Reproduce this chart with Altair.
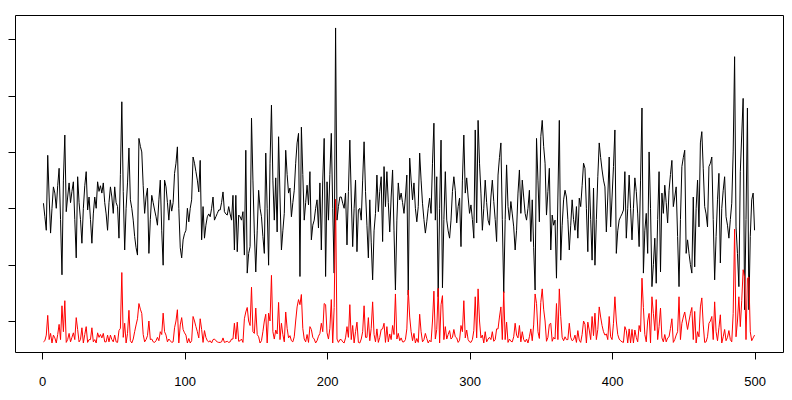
import altair as alt
import pandas as pd

idx = list(range(1, 501))

black = [
    2.09,1.85,1.61,2.94,2.2,1.56,2.0,2.38,2.27,2.0,
    2.4,2.71,1.8,0.82,2.5,3.3,1.94,2.2,2.45,2.1,
    2.3,2.47,1.8,1.12,2.56,2.1,1.8,1.38,2.0,2.4,
    2.65,1.97,2.2,1.8,1.38,1.9,2.2,2.0,2.47,2.3,
    2.4,2.27,2.45,2.1,1.9,1.61,2.1,2.38,2.2,1.91,
    2.38,2.1,2.03,1.47,2.6,3.89,2.3,1.26,2.0,2.45,
    3.07,2.15,2.0,1.79,1.5,1.3,1.17,3.24,3.1,3.0,
    2.4,1.91,2.2,2.36,1.2,1.8,2.23,2.1,1.97,1.85,
    1.7,2.15,2.5,1.6,0.99,2.5,2.38,2.1,1.79,2.15,
    1.95,2.1,2.62,2.8,3.09,2.0,1.3,1.12,1.44,1.55,
    1.61,2.0,1.76,2.0,2.15,2.91,2.8,2.65,2.5,2.29,
    2.85,1.44,2.03,1.47,1.7,1.85,1.9,1.85,2.0,2.2,
    1.79,1.85,1.91,1.97,1.97,2.1,2.29,1.94,1.9,1.88,
    2.03,1.9,1.79,2.23,1.26,2.23,1.23,1.88,1.85,1.79,
    1.94,1.17,3.03,0.85,1.2,1.32,3.6,2.5,1.56,0.87,
    1.6,2.32,2.0,1.85,1.5,1.2,2.98,2.0,0.99,2.8,
    3.83,2.5,1.79,2.54,1.58,3.27,2.2,1.26,1.6,1.91,
    3.03,2.6,2.27,2.36,1.85,2.1,2.32,2.8,3.16,3.33,
    0.79,3.44,2.6,1.79,2.1,2.41,2.06,2.65,1.44,1.7,
    1.79,2.0,2.15,1.65,2.45,1.26,2.5,3.24,0.79,2.47,
    1.79,2.6,3.33,2.0,0.85,5.2,1.79,2.03,2.2,2.2,
    2.09,2.0,2.27,1.35,2.3,3.21,2.2,1.32,2.0,2.5,
    1.23,1.97,2.0,1.79,2.5,3.18,2.3,1.7,1.12,2.15,
    1.4,0.73,1.6,1.91,2.59,1.94,2.3,2.56,1.41,2.74,
    2.03,2.65,2.1,1.58,2.2,2.68,1.6,0.55,1.79,2.45,
    2.15,2.27,2.1,1.91,2.2,2.59,0.46,2.89,2.5,2.15,
    2.45,2.0,1.76,2.03,2.98,2.5,2.09,1.8,1.56,1.76,
    2.0,2.18,1.91,2.8,3.51,1.79,2.56,0.43,2.0,3.21,
    0.59,1.8,2.65,1.79,1.6,1.47,1.79,2.3,2.56,2.32,
    1.74,2.03,2.18,1.32,2.5,3.3,2.27,2.54,2.2,1.91,
    2.06,1.8,1.47,3.39,1.74,3.56,2.8,2.27,1.61,2.0,
    2.5,2.1,1.79,1.7,2.2,2.5,2.12,1.8,1.41,2.59,
    2.9,3.16,1.8,0.5,1.8,2.77,2.03,1.79,2.12,1.9,
    1.67,1.26,1.61,2.27,2.68,1.91,2.5,2.2,1.91,1.79,
    2.0,2.32,1.41,2.15,1.3,0.55,3.24,2.5,1.76,3.27,
    3.56,3.1,2.8,1.88,2.3,2.71,1.26,1.88,1.7,1.79,
    0.76,2.2,3.56,1.08,1.7,2.15,2.32,2.2,1.8,1.26,
    1.7,2.15,1.8,1.61,2.03,1.47,2.18,2.03,2.4,2.8,
    2.71,2.0,1.23,2.54,1.8,1.08,2.36,0.99,1.8,2.56,
    3.16,2.9,2.68,2.5,2.38,1.58,2.2,2.91,1.67,2.2,
    2.74,3.39,1.2,1.6,1.79,1.85,1.9,1.97,2.65,1.47,
    2.0,2.59,2.0,1.44,2.0,2.54,2.3,1.9,1.32,2.5,
    3.78,0.85,1.6,1.91,1.2,3.0,2.0,0.61,1.0,1.47,
    0.67,1.8,2.65,0.87,2.27,1.91,2.41,2.1,1.74,2.32,
    2.6,2.85,2.03,2.2,2.38,1.5,0.61,1.8,2.74,2.9,
    3.03,1.2,1.44,1.2,1.0,0.85,2.2,0.96,2.0,2.5,
    1.67,3.16,3.36,2.7,2.03,1.9,1.67,2.74,2.8,2.91,
    1.8,0.73,1.5,2.15,2.62,1.03,2.0,2.32,2.56,1.85,
    1.7,1.47,1.8,2.09,3.0,4.69,1.67,1.2,0.61,2.65,
    3.3,3.95,0.2,1.8,3.78,0.2,1.5,2.15,2.27,1.61,
]

red = [
    -0.37,-0.35,-0.25,0.10,-0.33,-0.22,-0.39,-0.25,-0.30,-0.39,
    -0.24,-0.06,-0.33,0.27,-0.19,0.36,-0.38,-0.33,-0.22,-0.37,
    -0.29,-0.21,-0.33,0.06,-0.15,-0.37,-0.33,-0.12,-0.39,-0.24,
    -0.10,-0.38,-0.33,-0.33,-0.12,-0.37,-0.33,-0.39,-0.21,-0.29,
    -0.24,-0.30,-0.22,-0.37,-0.37,-0.25,-0.37,-0.25,-0.33,-0.37,
    -0.25,-0.37,-0.38,-0.17,-0.13,0.86,-0.29,-0.04,-0.39,-0.22,
    0.19,-0.35,-0.39,-0.32,-0.19,-0.07,0.04,0.31,0.21,0.135,
    -0.24,-0.37,-0.33,-0.26,0.00,-0.33,-0.32,-0.37,-0.38,-0.35,
    -0.29,-0.35,-0.19,-0.24,0.14,-0.19,-0.25,-0.37,-0.32,-0.35,
    -0.38,-0.37,-0.12,0.00,0.20,-0.39,-0.07,0.06,-0.15,-0.21,
    -0.25,-0.39,-0.31,-0.39,-0.35,0.08,0.00,-0.10,-0.19,-0.30,
    0.04,-0.15,-0.38,-0.17,-0.29,-0.35,-0.37,-0.35,-0.39,-0.33,
    -0.32,-0.35,-0.37,-0.38,-0.38,-0.37,-0.30,-0.38,-0.37,-0.36,
    -0.38,-0.37,-0.32,-0.32,-0.04,-0.32,-0.02,-0.36,-0.35,-0.32,
    -0.38,0.04,0.16,0.24,0.00,-0.08,0.60,-0.19,-0.22,0.23,
    -0.24,-0.28,-0.39,-0.35,-0.19,0.00,0.12,-0.39,0.14,0.00,
    0.81,-0.19,-0.32,-0.16,-0.23,0.33,-0.33,-0.04,-0.24,-0.37,
    0.16,-0.13,-0.30,-0.26,-0.35,-0.37,-0.28,0.00,0.25,0.38,
    0.29,0.47,-0.13,-0.32,-0.37,-0.24,-0.38,-0.10,-0.15,-0.29,
    -0.32,-0.39,-0.35,-0.27,-0.22,-0.04,-0.19,0.31,0.29,-0.21,
    -0.32,-0.13,0.38,-0.39,0.24,2.16,-0.32,-0.38,-0.33,-0.33,
    -0.37,-0.39,-0.30,-0.10,-0.29,0.29,-0.33,-0.08,-0.39,-0.19,
    -0.02,-0.38,-0.39,-0.32,-0.19,0.27,-0.29,-0.29,0.06,-0.35,
    -0.13,0.34,-0.24,-0.37,-0.14,-0.38,-0.29,-0.15,-0.14,-0.04,
    -0.38,-0.10,-0.37,-0.23,-0.33,-0.08,-0.24,0.48,-0.32,-0.22,
    -0.35,-0.30,-0.37,-0.37,-0.33,-0.14,0.55,0.07,-0.19,-0.35,
    -0.22,-0.39,-0.31,-0.38,0.12,-0.19,-0.37,-0.33,-0.22,-0.31,
    -0.39,-0.34,-0.37,0.00,0.53,-0.32,-0.15,0.58,-0.39,0.29,
    0.45,-0.33,-0.10,-0.32,-0.24,-0.17,-0.32,-0.29,-0.15,-0.28,
    -0.30,-0.38,-0.34,-0.08,-0.19,0.36,-0.30,-0.16,-0.33,-0.37,
    -0.38,-0.33,-0.17,0.43,-0.30,0.57,0.00,-0.30,-0.25,-0.39,
    -0.19,-0.37,-0.32,-0.29,-0.33,-0.19,-0.36,-0.33,-0.14,-0.14,
    0.07,0.25,-0.33,0.52,-0.33,-0.02,-0.38,-0.32,-0.36,-0.37,
    -0.28,-0.04,-0.25,-0.30,-0.08,-0.37,-0.19,-0.33,-0.37,-0.32,
    -0.39,-0.28,-0.14,-0.35,-0.07,0.48,0.31,-0.19,-0.31,0.33,
    0.57,0.21,0.00,-0.36,-0.29,-0.06,-0.04,-0.36,-0.29,-0.32,
    0.31,-0.33,0.57,0.08,-0.29,-0.35,-0.28,-0.33,-0.33,-0.04,
    -0.29,-0.35,-0.33,-0.25,-0.38,-0.17,-0.34,-0.38,-0.24,0.00,
    -0.06,-0.39,-0.02,-0.16,-0.33,0.08,-0.26,0.14,-0.33,-0.15,
    0.25,0.07,-0.08,-0.19,-0.25,-0.23,-0.33,0.08,-0.28,-0.33,
    -0.04,0.43,0.00,-0.24,-0.32,-0.35,-0.37,-0.38,-0.10,-0.17,
    -0.39,-0.14,-0.39,-0.15,-0.39,-0.16,-0.29,-0.37,-0.08,-0.19,
    0.76,0.24,-0.24,-0.37,0.00,0.135,-0.39,0.43,0.135,-0.17,
    0.38,-0.33,-0.10,0.23,-0.30,-0.37,-0.24,-0.37,-0.30,-0.28,
    -0.13,0.04,-0.38,-0.33,-0.25,-0.19,0.43,-0.33,-0.04,0.07,
    0.16,0.00,-0.15,0.00,0.135,0.24,-0.33,0.17,-0.39,-0.19,
    -0.28,0.25,0.41,-0.07,-0.38,-0.37,-0.28,-0.04,0.00,0.08,
    -0.33,0.34,-0.19,-0.35,-0.12,0.11,-0.39,-0.28,-0.15,-0.35,
    -0.29,-0.17,-0.33,-0.37,0.135,1.63,-0.28,0.00,0.43,-0.10,
    0.36,0.91,0.78,-0.33,0.76,0.78,-0.19,-0.35,-0.30,-0.25,
]

x_ticks = [0, 100, 200, 300, 400, 500]
y_ticks = [0, 1, 2, 3, 4, 5]

df = pd.DataFrame({"idx": idx, "black": black, "red": red})

x_enc = alt.X(
    "idx:Q",
    scale=alt.Scale(domain=[-18.96, 519.96], nice=False, zero=False),
    axis=alt.Axis(
        values=x_ticks, format="d", title=None, grid=False, domain=False,
        tickSize=7, tickColor="black", labelColor="black",
        labelFont="Liberation Sans", labelFontSize=13, labelPadding=16,
        labelFlush=False,
    ),
)

y_scale = alt.Scale(domain=[-0.55, 5.43], nice=False, zero=False)
y_axis = alt.Axis(
    values=y_ticks, labels=False, title=None, grid=False, domain=False,
    tickSize=7, tickColor="black",
)

base = alt.Chart(df)

black_line = base.mark_line(color="black", strokeWidth=1, clip=True).encode(
    x=x_enc,
    y=alt.Y("black:Q", scale=y_scale, axis=y_axis),
)

red_line = base.mark_line(color="#FF0000", strokeWidth=1, clip=True).encode(
    x=x_enc,
    y=alt.Y("red:Q", scale=y_scale, axis=y_axis),
)

chart = (
    alt.layer(black_line, red_line)
    .properties(
        width=768,
        height=337,
        autosize="none",
        padding={"left": 7, "top": 7, "right": 1, "bottom": 44},
        background="white",
    )
    .configure_view(stroke="black", strokeWidth=1)
)

chart.save("out.html", embed_options={"renderer": "svg", "actions": False})
